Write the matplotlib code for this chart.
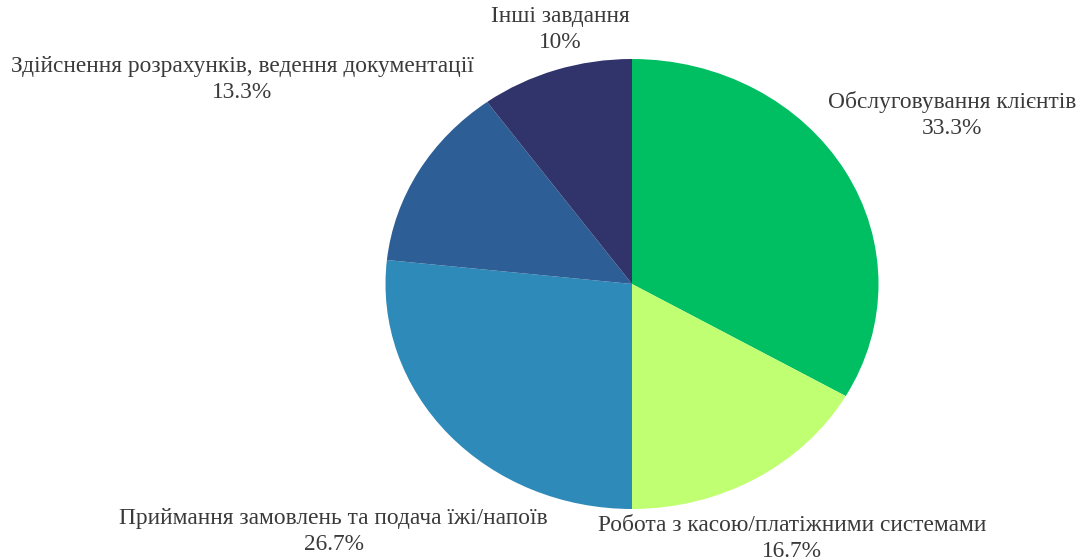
import matplotlib
matplotlib.use("Agg")
import matplotlib.pyplot as plt

labels = [
    "Обслуговування клієнтів",
    "Робота з касою/платіжними системами",
    "Приймання замовлень та подача їжі/напоїв",
    "Здійснення розрахунків, ведення документації",
    "Інші завдання",
]
shares = [33.3, 16.7, 26.7, 13.3, 10.0]
pct_text = ["33.3%", "16.7%", "26.7%", "13.3%", "10%"]
colors = ["#00bf63", "#c1ff72", "#2e8ab8", "#2e5e96", "#30346b"]

# where each label block sits (data units, pie radius = 1)
label_xy = [(1.30, 0.75), (0.65, -1.13), (-1.21, -1.10), (-1.58, 0.91), (-0.29, 1.13)]

plt.rcParams['font.family'] = ['Liberation Serif', 'DejaVu Serif']

fig = plt.figure(figsize=(10.83, 5.6), dpi=100)
ax = fig.add_axes([0, 0, 1, 1])
ax.pie(shares, colors=colors, startangle=90, counterclock=False,
       wedgeprops=dict(linewidth=0))

for lab, pct, (x, y) in zip(labels, pct_text, label_xy):
    ax.text(x, y, lab + "\n" + pct, ha="center", va="center",
            fontsize=16.8, color="#3a3a3a", linespacing=1.3)

# the graphic is a little squashed vertically
ax.set_aspect("auto")
ax.set_xlim(-632 / 246.5, (1083 - 632) / 246.5)
ax.set_ylim(-276 / 225, 284 / 225)
ax.axis("off")

fig.savefig("out.png", dpi=100, facecolor="white")
